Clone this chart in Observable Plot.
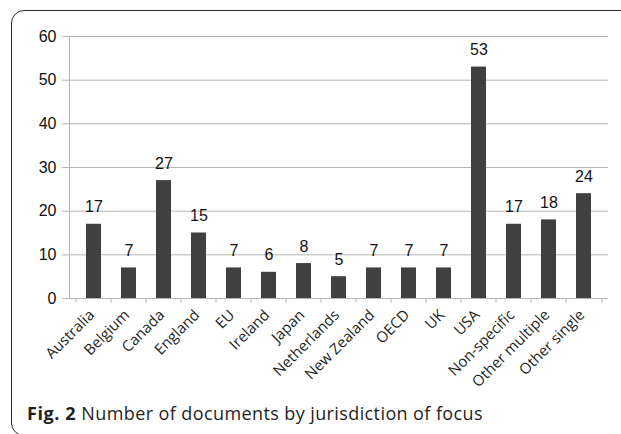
<!DOCTYPE html>
<html>
<head>
<meta charset="utf-8">
<script src="https://cdn.jsdelivr.net/npm/d3@7"></script>
<script src="https://cdn.jsdelivr.net/npm/@observablehq/plot@0.6"></script>
<style>
  html, body { margin: 0; padding: 0; background: #fff; overflow: hidden; }
  #wrap { position: relative; width: 621px; height: 434px; overflow: hidden; }
  #box { position: absolute; left: 11px; top: 10px; width: 700px; height: 424px; border: 1.6px solid #2a2a2a; border-radius: 13px; }
  #chart { position: absolute; left: 0; top: 0; }
  #caption { position: absolute; left: 27px; top: 403px; font-family: "Open Sans", sans-serif; font-size: 18px; letter-spacing: 0.4px; color: #231f20; white-space: nowrap; line-height: 20px; }
  #caption b { font-weight: 700; letter-spacing: 0.6px; }
</style>
</head>
<body>
<div id="wrap">
  <div id="box"></div>
  <div id="chart"></div>
  <div id="caption"><b>Fig. 2</b> Number of documents by jurisdiction of focus</div>
</div>
<script>
const categories = ["Australia", "Belgium", "Canada", "England", "EU", "Ireland", "Japan", "Netherlands", "New Zealand", "OECD", "UK", "USA", "Non-specific", "Other multiple", "Other single"];
const values = [17, 7, 27, 15, 7, 6, 8, 5, 7, 7, 7, 53, 17, 18, 24];
const yTicks = [0, 10, 20, 30, 40, 50, 60];

const data = categories.map((c, i) => ({jurisdiction: c, count: values[i]}));

const W = 621, H = 380;
const mL = 69, mR = 13, mT = 36, mB = 82;
const step = (W - mL - mR) / categories.length;
const gray = "#b5b5b5";

const chart = Plot.plot({
  width: W,
  height: H,
  marginLeft: mL,
  marginRight: mR,
  marginTop: mT,
  marginBottom: mB,
  style: {fontFamily: "'Liberation Sans', Arial, sans-serif", background: "transparent", overflow: "visible"},
  x: {domain: categories, paddingInner: 0.58, paddingOuter: 0.29, label: null},
  y: {domain: [0, 60], label: null},
  marks: [
    Plot.gridY(yTicks, {stroke: gray, strokeOpacity: 1, strokeWidth: 1}),
    Plot.axisY(yTicks, {tickSize: 7, tickPadding: 6, stroke: gray, fontSize: 16, fill: "#111", label: null}),
    Plot.frame({anchor: "left", stroke: gray}),
    Plot.ruleY([0], {stroke: gray}),
    Plot.axisX(categories, {tickSize: 5, stroke: gray, dx: -step / 2, tickFormat: () => "", label: null}),
    Plot.axisX([categories[categories.length - 1]], {tickSize: 5, stroke: gray, dx: step / 2, tickFormat: () => "", label: null}),
    Plot.axisX(categories, {tickSize: 0, tickRotate: -45, tickPadding: 6, dx: -2, dy: 8, fontSize: 15, fontFamily: "'Open Sans', sans-serif", fill: "#231f20", label: null}),
    Plot.barY(data, {x: "jurisdiction", y: "count", fill: "#404040"}),
    Plot.text(data, {x: "jurisdiction", y: "count", text: d => String(d.count), dy: -12, lineAnchor: "bottom", fontSize: 16, fill: "#111"})
  ]
});
document.getElementById("chart").appendChild(chart);
</script>
</body>
</html>
